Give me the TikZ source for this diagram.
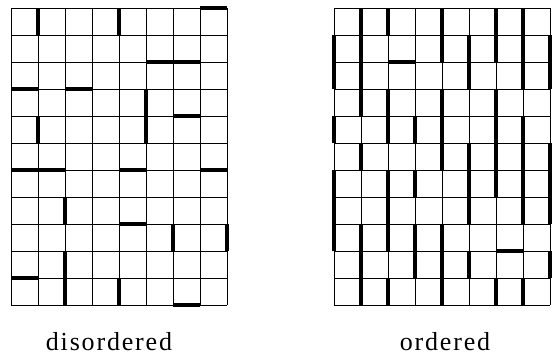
\documentclass[tikz,border=0pt]{standalone}
\usepackage{fontspec}
\setmainfont{Liberation Serif}[LetterSpace=7]
\begin{document}
\begin{tikzpicture}[x=1pt,y=-1pt,
  gridline/.style={line width=0.9pt,black},
  thick seg/.style={line width=4pt,black,line cap=butt},
  caption/.style={anchor=base,inner sep=0pt,font=\fontsize{26}{30}\selectfont}]
\useasboundingbox (0,0) rectangle (557,355);
% left grid (disordered)
\begin{scope}[shift={(11pt,-8pt)},x=27pt,y=-27pt]
  \foreach \i in {0,...,8} \draw[gridline] (\i,0) -- (\i,11);
  \foreach \j in {0,...,11} \draw[gridline] (0,\j) -- (8,\j);
  % vertical bars: x/y1/y2
  \foreach \x/\a/\b in {1/0/1,4/0/1,5/3/5,1/4/5,2/7/8,6/8/9,8/8/9,2/9/11,4/10/11}
    \draw[thick seg] (\x,\a) -- (\x,\b);
  % horizontal bars: y/x1/x2
  \foreach \y/\a/\b in {0/7/8,2/5/7,3/0/1,3/2/3,4/6/7,6/0/2,6/4/5,6/7/8,8/4/5,10/0/1,11/6/7}
    \draw[thick seg] (\a,\y) -- (\b,\y);
\end{scope}
% right grid (ordered)
\begin{scope}[shift={(334pt,-8pt)},x=27pt,y=-27pt]
  \foreach \i in {0,...,8} \draw[gridline] (\i,0) -- (\i,11);
  \foreach \j in {0,...,11} \draw[gridline] (0,\j) -- (8,\j);
  \foreach \x/\a/\b in {0/1/3,0/4/5,0/6/9,
                        1/0/4,1/5/6,1/8/11,
                        2/0/1,2/3/5,2/6/9,2/10/11,
                        3/4/5,3/6/7,3/8/10,
                        4/0/2,4/3/6,4/8/11,
                        5/1/3,5/5/8,5/9/10,
                        6/0/2,6/3/7,6/10/11,
                        7/0/3,7/4/8,7/10/11,
                        8/1/3,8/5/8,8/9/10}
    \draw[thick seg] (\x,\a) -- (\x,\b);
  \foreach \y/\a/\b in {2/2/3,9/6/7}
    \draw[thick seg] (\a,\y) -- (\b,\y);
\end{scope}
\node[caption] (dis) at (109,350) {disordered};
\node[caption] (ord) at (445,350) {ordered};
\end{tikzpicture}
\end{document}
